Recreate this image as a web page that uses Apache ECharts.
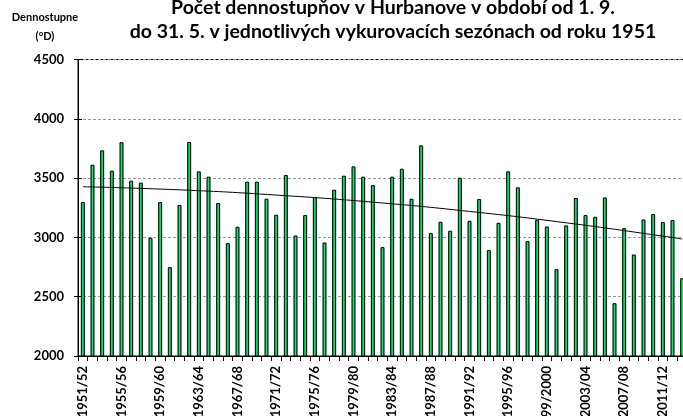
<!DOCTYPE html>
<html>
<head>
<meta charset="utf-8">
<script src="https://cdn.jsdelivr.net/npm/echarts@6/dist/echarts.min.js"></script>
<style>
  html, body { margin: 0; padding: 0; background: #fff; }
  #chart { width: 683px; height: 416px; }
</style>
</head>
<body>
<div id="chart"></div>
<script>
// vykurovacie sezóny
const seasons = [
  '1951/52', '1952/53', '1953/54', '1954/55', '1955/56', '1956/57', '1957/58', '1958/59',
  '1959/60', '1960/61', '1961/62', '1962/63', '1963/64', '1964/65', '1965/66', '1966/67',
  '1967/68', '1968/69', '1969/70', '1970/71', '1971/72', '1972/73', '1973/74', '1974/75',
  '1975/76', '1976/77', '1977/78', '1978/79', '1979/80', '1980/81', '1981/82', '1982/83',
  '1983/84', '1984/85', '1985/86', '1986/87', '1987/88', '1988/89', '1989/90', '1990/91',
  '1991/92', '1992/93', '1993/94', '1994/95', '1995/96', '1996/97', '1997/98', '1998/99',
  '1999/2000', '2000/01', '2001/02', '2002/03', '2003/04', '2004/05', '2005/06', '2006/07',
  '2007/08', '2008/09', '2009/10', '2010/11', '2011/12', '2012/13', '2013/14'
]

// dennostupne za sezónu
const degreeDays = [
  3298, 3613, 3734, 3562, 3802, 3478, 3461, 2997, 3298, 2749,
  3273, 3805, 3557, 3512, 3290, 2952, 3090, 3470, 3470, 3326,
  3191, 3526, 3016, 3188, 3340, 2957, 3402, 3520, 3599, 3512,
  3441, 2918, 3512, 3579, 3326, 3776, 3036, 3132, 3056, 3503,
  3140, 3323, 2893, 3123, 3557, 3422, 2969, 3149, 3092, 2732,
  3101, 3332, 3188, 3174, 3337, 2445, 3078, 2856, 3151, 3197,
  3129, 3146, 2656
]

// trend (odčítaný z obrázka)
const trendSeasons = ['1951/52', '1961/62', '1971/72', '1981/82', '1991/92', '2001/02', '2011/12', '2013/14']
const trendValues = [3427, 3401, 3357, 3297, 3219, 3123, 3011, 2986]

const yTicks = { min: 2000, max: 4500, interval: 500 }

const chart = echarts.init(document.getElementById('chart'))

const font = 'Lato, "Open Sans", sans-serif'

const option = {
  animation: false,
  textStyle: { fontFamily: font },
  title: [
    {
      text: 'Počet dennostupňov v Hurbanove v období od 1. 9.\ndo 31. 5. v jednotlivých vykurovacích sezónach od roku 1951',
      left: 388,
      top: -9,
      textAlign: 'center',
      textStyle: { fontSize: 19.5, fontWeight: 'bold', lineHeight: 24, color: '#000', fontFamily: font }
    },
    {
      text: 'Dennostupne\n(°D)',
      left: 40,
      top: 3,
      textAlign: 'center',
      textStyle: { fontSize: 11, fontWeight: 'bold', lineHeight: 19, color: '#000', fontFamily: font }
    }
  ],
  grid: {
    left: 78,
    top: 59.5,
    width: 609,
    height: 296.5,
    outerBoundsMode: 'none',
    containLabel: false,
    show: true,
    borderColor: '#000',
    borderWidth: 1,
    backgroundColor: 'transparent'
  },
  xAxis: {
    type: 'category',
    data: seasons,
    boundaryGap: true,
    axisLine: { lineStyle: { color: '#000', width: 1 } },
    axisTick: { show: true, interval: 0, length: 5, lineStyle: { color: '#000' } },
    axisLabel: {
      interval: 3,
      rotate: 90,
      margin: 10,
      fontSize: 13,
      fontWeight: 'bold',
      color: '#000',
      fontFamily: font
    }
  },
  yAxis: [
    {
      type: 'value',
      min: yTicks.min,
      max: yTicks.max,
      interval: yTicks.interval,
      axisLine: { show: true, lineStyle: { color: '#000', width: 1 } },
      axisTick: { show: true, length: 4, lineStyle: { color: '#000' } },
      axisLabel: {
        margin: 14,
        fontSize: 13,
        fontWeight: 'bold',
        color: '#000',
        fontFamily: font,
        formatter: v => String(v)
      },
      splitLine: { show: true, lineStyle: { color: '#999', type: [3, 2], width: 1 } }
    },
    {
      // vnútorné značky na osi
      type: 'value',
      position: 'left',
      min: yTicks.min,
      max: yTicks.max,
      interval: yTicks.interval,
      axisLine: { show: false },
      axisTick: { show: true, inside: true, length: 4, lineStyle: { color: '#000' } },
      axisLabel: { show: false },
      splitLine: { show: false }
    }
  ],
  series: [
    {
      type: 'bar',
      data: degreeDays,
      barWidth: 4,
      itemStyle: {
        color: new echarts.graphic.LinearGradient(0, 0, 1, 0, [
          { offset: 0, color: '#00994a' },
          { offset: 0.5, color: '#1ee070' },
          { offset: 1, color: '#00994a' }
        ]),
        borderColor: '#000',
        borderWidth: 1
      }
    },
    {
      type: 'line',
      data: trendSeasons.map((s, i) => [s, trendValues[i]]),
      smooth: true,
      symbol: 'none',
      lineStyle: { color: '#000', width: 1 },
      z: 5
    }
  ]
}

chart.setOption(option)
</script>
</body>
</html>
